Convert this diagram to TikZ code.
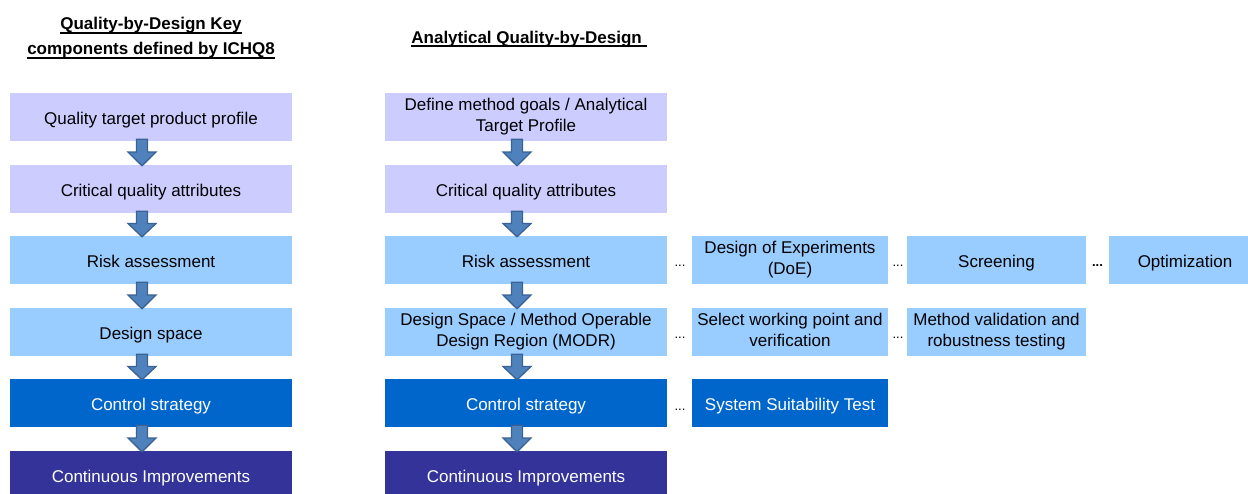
\documentclass[tikz,border=0pt]{standalone}
\usepackage{fontspec}
\setmainfont{Liberation Sans}
\usetikzlibrary{calc}
\definecolor{lav}{HTML}{CCCCFF}
\definecolor{lblue}{HTML}{99CCFF}
\definecolor{mblue}{HTML}{0066CC}
\definecolor{indigo}{HTML}{333399}
\definecolor{arrfill}{HTML}{4F81BD}
\definecolor{arrdraw}{HTML}{3A6294}
\newcommand\thul[1]{\setbox0\hbox{#1}\rlap{\rule[-4pt]{\wd0}{1.8pt}}\box0}
\newcommand\boxstrut{\rule[-4pt]{0pt}{23pt}}
\newcommand\tallstrut{\rule[-4pt]{0pt}{27pt}}
\tikzset{
  box/.style={inner sep=0pt, minimum height=48pt, align=center,
    font=\fontsize{17}{20.5}\selectfont, text=black,
    execute at begin node=\boxstrut, execute at end node=\boxstrut},
  twoline/.style={execute at begin node=\tallstrut},
  wide/.style={box, minimum width=282pt},
  lavbox/.style={wide, fill=lav},
  lbbox/.style={wide, fill=lblue},
  csbox/.style={wide, fill=mblue, text=white},
  cibox/.style={wide, fill=indigo, text=white},
  sidebox/.style={box, fill=lblue},
  dots/.style={anchor=base, inner sep=0pt, font=\fontsize{13}{13}\selectfont},
  titlenode/.style={align=center, inner sep=0pt, font=\bfseries\fontsize{17}{25}\selectfont},
  barrow/.style={fill=arrfill, draw=arrdraw, line width=1.3pt, line join=miter}
}
\newcommand\blockarrow[2]{%
  \draw[barrow] let \p1=($(#1.south)+(-9pt,0pt)$), \p2=($(#2.north)+(-9pt,0pt)$),
    \n1={(\y1+\y2)/2} in
    ({\x1-5.5pt},{\y1+2pt}) -- ({\x1+5.5pt},{\y1+2pt}) -- ({\x1+5.5pt},{\n1+1pt})
    -- ({\x1+14pt},{\n1+1pt}) -- ({\x1},{\y2-1pt}) -- ({\x1-14pt},{\n1+1pt})
    -- ({\x1-5.5pt},{\n1+1pt}) -- cycle;}
\begin{document}
\begin{tikzpicture}[x=1pt,y=-1pt]
\useasboundingbox (0,0) rectangle (1248,493);
\clip (0,0) rectangle (1248,493);
% titles
\node[titlenode] (t1) at (151,38) {\thul{Quality-by-Design Key}\\\thul{components defined by ICHQ8}};
\node[titlenode] (t2) at (529,39) {\thul{Analytical Quality-by-Design\ }};
% left column
\node[lavbox] (l1) at (151,117) {Quality target product profile};
\node[lavbox] (l2) at (151,189) {Critical quality attributes};
\node[lbbox]  (l3) at (151,260) {Risk assessment};
\node[lbbox]  (l4) at (151,332) {Design space};
\node[csbox]  (l5) at (151,403) {Control strategy};
\node[cibox]  (l6) at (151,475) {Continuous Improvements};
% right column
\node[lavbox, twoline] (r1) at (526,117) {Define method goals / Analytical\\Target Profile};
\node[lavbox] (r2) at (526,189) {Critical quality attributes};
\node[lbbox]  (r3) at (526,260) {Risk assessment};
\node[lbbox, twoline] (r4) at (526,332) {Design Space / Method Operable\\Design Region (MODR)};
\node[csbox]  (r5) at (526,403) {Control strategy};
\node[cibox]  (r6) at (526,475) {Continuous Improvements};
% side boxes
\node[sidebox, twoline, minimum width=196pt] (d1) at (790,260) {Design of Experiments\\(DoE)};
\node[sidebox, minimum width=179pt] (s1) at (996.5,260) {Screening};
\node[sidebox, minimum width=152pt] (o1) at (1185,260) {Optimization};
\node[sidebox, twoline, minimum width=196pt] (w1) at (790,332) {Select working point and\\verification};
\node[sidebox, twoline, minimum width=179pt] (v1) at (996.5,332) {Method validation and\\robustness testing};
\node[sidebox, minimum width=196pt, fill=mblue, text=white] (st) at (790,403) {System Suitability Test};
% dots
\node[dots] (k1) at (680,266) {...};
\node[dots] (k2) at (898,266) {...};
\node[dots, font=\bfseries\fontsize{13}{13}\selectfont] (k3) at (1097.5,266) {...};
\node[dots] (k4) at (680,338) {...};
\node[dots] (k5) at (898,338) {...};
\node[dots] (k6) at (680,410) {...};
% arrows
\blockarrow{l1}{l2}
\blockarrow{l2}{l3}
\blockarrow{l3}{l4}
\blockarrow{l4}{l5}
\blockarrow{l5}{l6}
\blockarrow{r1}{r2}
\blockarrow{r2}{r3}
\blockarrow{r3}{r4}
\blockarrow{r4}{r5}
\blockarrow{r5}{r6}
\end{tikzpicture}
\end{document}
